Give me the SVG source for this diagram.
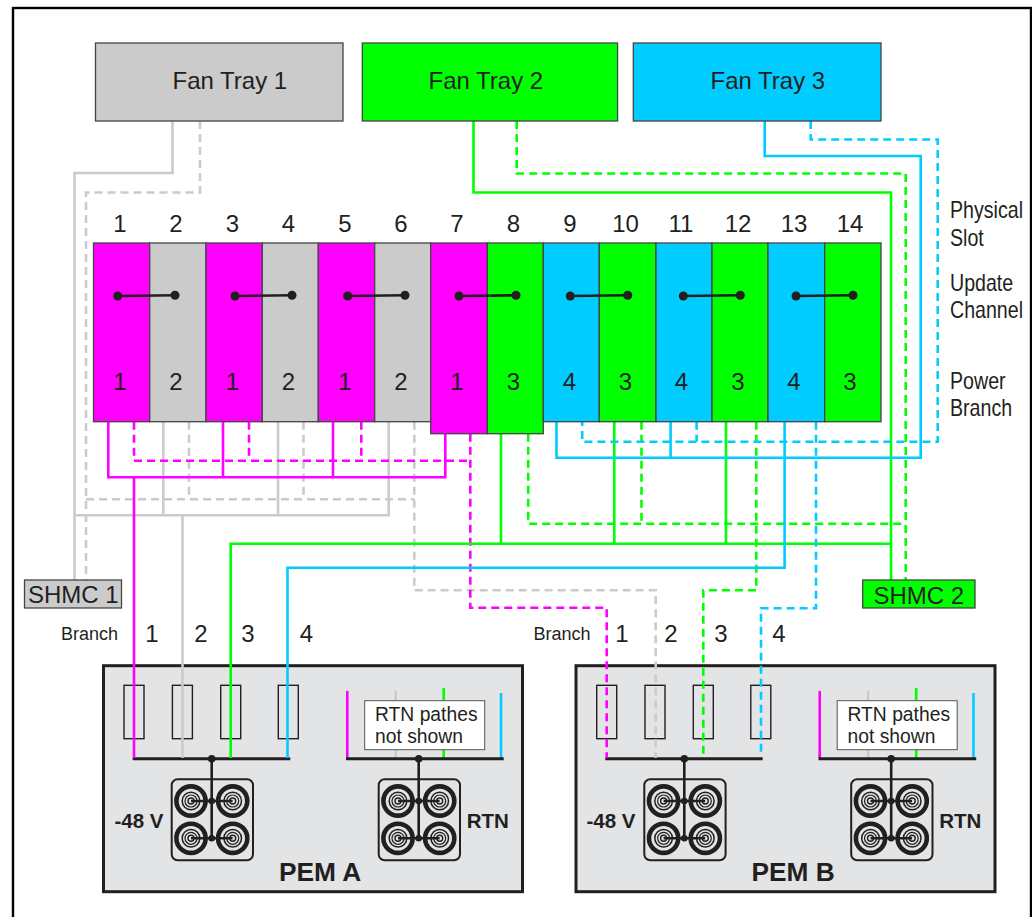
<svg xmlns="http://www.w3.org/2000/svg" xmlns:xlink="http://www.w3.org/1999/xlink" width="1032" height="917" viewBox="0 0 1032 917">
<style>
text{font-family:"Liberation Sans",Arial,sans-serif;fill:#231f20;font-size:24px}
.c{text-anchor:middle}
.b{font-weight:bold;font-size:20.500px}
.pt{font-weight:bold;font-size:26.300px}
.r{font-size:19.300px}
.s{font-size:18px}
.l{font-size:23px}
.box{stroke:#444;stroke-width:1.3}
.g{fill:#cbcbcb}.v{fill:#00ff00}.m{fill:#ff00ff}.u{fill:#00ccff}
.w{fill:none;stroke-width:2.600;stroke-linejoin:miter}
.d{stroke-dasharray:8 5}
.wg{stroke:#cbcbcb}.wv{stroke:#00ff00}.wm{stroke:#ff00ff}.wu{stroke:#00ccff}
.pem{fill:#e3e4e6;stroke:#231f20;stroke-width:3}
.fuse{fill:none;stroke:#231f20;stroke-width:1.4}
.bus{stroke:#231f20;stroke-width:3;fill:none}
.lnk{stroke:#231f20;stroke-width:2.600;fill:none}
.dot{fill:#231f20}
.ring{fill:none;stroke:#231f20}
</style>
<defs>
<g id="term">
<circle class="ring" r="14.600" stroke-width="4.600"/>
<circle class="ring" r="8.800" stroke-width="1.500"/>
<circle class="ring" r="6" stroke-width="1.200"/>
<circle class="ring" r="3" stroke-width="1.400" style="fill:#e3e4e6"/>
</g>
<g id="block">
<rect x="-40" y="20.500" width="81.300" height="81" rx="6" fill="none" stroke="#231f20" stroke-width="2"/>
<use xlink:href="#term" href="#term" x="-20.700" y="42.300"/>
<use xlink:href="#term" href="#term" x="21" y="42.300"/>
<use xlink:href="#term" href="#term" x="-20.700" y="79.600"/>
<use xlink:href="#term" href="#term" x="21" y="79.600"/>
<path class="lnk" d="M0 0V79.500M-20.700 42.300H20.900M-20.700 79.600H20.900"/>
<circle class="dot" r="3.800" cy="0"/>
<circle class="dot" r="3.300" cy="42.300"/>
<circle class="dot" r="3.300" cy="79.600"/>
</g>
</defs>
<rect width="1032" height="917" fill="#fff"/>
<rect id="frame" x="13" y="8" width="1018" height="930" fill="none" stroke="#000" stroke-width="2.400"/>

<g id="pem-a">
<rect class="pem" x="103.500" y="665.700" width="419" height="226"/>
<rect class="fuse" x="124" y="685.300" width="20" height="53.400"/>
<rect class="fuse" x="172.400" y="685.300" width="20" height="53.400"/>
<rect class="fuse" x="220.700" y="685.300" width="20" height="53.400"/>
<rect class="fuse" x="278.300" y="685.300" width="20" height="53.400"/>
<path class="w wm" d="M347.300 691V758"/><path class="w wg" d="M395.700 691V758"/><path class="w wv" d="M443.700 688V758"/><path class="w wu" d="M501 693V758"/>
<rect x="364.700" y="700.700" width="120" height="49" fill="#fff" stroke="#555" stroke-width="1"/>
<text class="r" x="375" y="721">RTN pathes</text>
<text class="r" x="375" y="743">not shown</text>
<path class="bus" d="M132.700 758.700H290.300M346 758.700H503.700"/>
<use xlink:href="#block" href="#block" x="211.700" y="758.700"/>
<use xlink:href="#block" href="#block" x="418.700" y="758.700"/>
<text class="b" x="114.500" y="828">-48 V</text>
<text class="b" x="466.700" y="828">RTN</text>
<text class="pt" x="279" y="881">PEM A</text>
</g>

<g id="pem-b">
<rect class="pem" x="576" y="665.700" width="419" height="226"/>
<rect class="fuse" x="596.700" y="685.300" width="20" height="53.400"/>
<rect class="fuse" x="645" y="685.300" width="20" height="53.400"/>
<rect class="fuse" x="693.300" y="685.300" width="20" height="53.400"/>
<rect class="fuse" x="750.800" y="685.300" width="20" height="53.400"/>
<path class="w wm" d="M819.700 691V758"/><path class="w wg" d="M868.200 691V758"/><path class="w wv" d="M916.200 688V758"/><path class="w wu" d="M973.500 693V758"/>
<rect x="837.200" y="700.700" width="120" height="49" fill="#fff" stroke="#555" stroke-width="1"/>
<text class="r" x="847.500" y="721">RTN pathes</text>
<text class="r" x="847.500" y="743">not shown</text>
<path class="bus" d="M605.300 758.700H762.700M818.500 758.700H976.200"/>
<use xlink:href="#block" href="#block" x="684.300" y="758.700"/>
<use xlink:href="#block" href="#block" x="891.200" y="758.700"/>
<text class="b" x="586.500" y="828">-48 V</text>
<text class="b" x="939.300" y="828">RTN</text>
<text class="pt" x="751.500" y="881">PEM B</text>
</g>

<g id="connectors">
<path class="w wg" d="M172.500 121V173H74.500V581"/>
<path class="w wg" d="M74.500 515.300H388.700V421.700M163.300 421.700V515.300M278 421.700V515.300M182.500 515.300V758"/>
<path class="w wg d" d="M200 121V192.500H86V580"/>
<path class="w wg d" d="M86 499.300H414.300"/>
<path class="w wg d" d="M189 421.700V499.300"/>
<path class="w wg d" d="M303.500 421.700V499.300"/>
<path class="w wg d" d="M414.300 421.700V590.300H655.700V758"/>
<path class="w wm" d="M108.300 421.700V477.300H445.300V433.700M223 421.700V477.300M333 421.700V477.300M134 477.300V758"/>
<path class="w wm d" d="M134 421.700V460.700H470.300"/>
<path class="w wm d" d="M249 421.700V460"/>
<path class="w wm d" d="M361.300 421.700V460"/>
<path class="w wm d" d="M470.300 433.700V607.700H606.700V758"/>
<path class="w wv" d="M473.500 121V192.500H891V580"/>
<path class="w wv" d="M891 543.700H230.700V758M501 433.700V543.700M614.300 421.700V543.700M726 421.700V543.700"/>
<path class="w wv d" d="M516.700 121V173.500H905.700V580"/>
<path class="w wv d" d="M528.200 433.700V523.700H905.700"/>
<path class="w wv d" d="M641.500 421.700V523.700"/>
<path class="w wv d" d="M756.300 421.700V590.300H703.300V758"/>
<path class="w wu" d="M764.700 121V156H920.700V457.700H556.500V421.700M670.600 421.700V457.700"/>
<path class="w wu" d="M784.600 421.700V567.700H287.500V758"/>
<path class="w wu d" d="M810.700 121V139.500H937.700V441.700H582.200V421.700"/>
<path class="w wu d" d="M696.600 421.700V441.700"/>
<path class="w wu d" d="M816 421.700V608.300H761V752"/>
</g>

<g id="fan-tray-1"><rect class="box g" x="95.500" y="43" width="247.500" height="78"/><text x="172.500" y="88.700">Fan Tray 1</text></g>
<g id="fan-tray-2"><rect class="box v" x="362.300" y="43" width="255.300" height="78"/><text x="428.500" y="88.700">Fan Tray 2</text></g>
<g id="fan-tray-3"><rect class="box u" x="633.300" y="43" width="247.700" height="78"/><text x="710.500" y="88.700">Fan Tray 3</text></g>

<g id="slot-1"><rect class="box m" x="93.500" y="243" width="56.200" height="178.700"/><text class="c" x="120" y="232.300">1</text><text class="c" x="120" y="389.500">1</text></g>
<g id="slot-2"><rect class="box g" x="149.700" y="243" width="56.300" height="178.700"/><text class="c" x="176" y="232.300">2</text><text class="c" x="176" y="389.500">2</text></g>
<g id="slot-3"><rect class="box m" x="206" y="243" width="56.300" height="178.700"/><text class="c" x="232.500" y="232.300">3</text><text class="c" x="232.500" y="389.500">1</text></g>
<g id="slot-4"><rect class="box g" x="262.300" y="243" width="56" height="178.700"/><text class="c" x="288.500" y="232.300">4</text><text class="c" x="288.500" y="389.500">2</text></g>
<g id="slot-5"><rect class="box m" x="318.300" y="243" width="56.400" height="178.700"/><text class="c" x="345" y="232.300">5</text><text class="c" x="345" y="389.500">1</text></g>
<g id="slot-6"><rect class="box g" x="374.700" y="243" width="56" height="178.700"/><text class="c" x="401" y="232.300">6</text><text class="c" x="401" y="389.500">2</text></g>
<g id="slot-7"><rect class="box m" x="430.700" y="243" width="56.600" height="190.700"/><text class="c" x="457" y="232.300">7</text><text class="c" x="457" y="389.500">1</text></g>
<g id="slot-8"><rect class="box v" x="487.300" y="243" width="56" height="190.700"/><text class="c" x="513.500" y="232.300">8</text><text class="c" x="513.500" y="389.500">3</text></g>
<g id="slot-9"><rect class="box u" x="543.300" y="243" width="56" height="178.700"/><text class="c" x="570" y="232.300">9</text><text class="c" x="569.500" y="389.500">4</text></g>
<g id="slot-10"><rect class="box v" x="599.300" y="243" width="56.700" height="178.700"/><text class="c" x="625.500" y="232.300">10</text><text class="c" x="625.500" y="389.500">3</text></g>
<g id="slot-11"><rect class="box u" x="656" y="243" width="56" height="178.700"/><text class="c" x="681" y="232.300">11</text><text class="c" x="681.500" y="389.500">4</text></g>
<g id="slot-12"><rect class="box v" x="712" y="243" width="56" height="178.700"/><text class="c" x="738" y="232.300">12</text><text class="c" x="738" y="389.500">3</text></g>
<g id="slot-13"><rect class="box u" x="768" y="243" width="56.700" height="178.700"/><text class="c" x="794" y="232.300">13</text><text class="c" x="794" y="389.500">4</text></g>
<g id="slot-14"><rect class="box v" x="824.700" y="243" width="56.300" height="178.700"/><text class="c" x="850" y="232.300">14</text><text class="c" x="850" y="389.500">3</text></g>

<g id="slot-links">
<path class="lnk" d="M117.700 296L175 295.300M235 296L292 295.300M347.700 296L405 295.300M459 296L516 295.300M570.300 296L627.700 295.300M683.300 296L740.300 295.300M796 296L853 295.300"/>
<g class="dot">
<circle cx="117.700" cy="296" r="4.500"/><circle cx="175" cy="295.300" r="4.500"/>
<circle cx="235" cy="296" r="4.500"/><circle cx="292" cy="295.300" r="4.500"/>
<circle cx="347.700" cy="296" r="4.500"/><circle cx="405" cy="295.300" r="4.500"/>
<circle cx="459" cy="296" r="4.500"/><circle cx="516" cy="295.300" r="4.500"/>
<circle cx="570.300" cy="296" r="4.500"/><circle cx="627.700" cy="295.300" r="4.500"/>
<circle cx="683.300" cy="296" r="4.500"/><circle cx="740.300" cy="295.300" r="4.500"/>
<circle cx="796" cy="296" r="4.500"/><circle cx="853" cy="295.300" r="4.500"/>
</g>
</g>

<g id="shmc-1"><rect class="box g" x="24.500" y="580" width="97" height="28"/><text x="28" y="603.300">SHMC 1</text></g>
<g id="shmc-2"><rect class="box v" x="862.700" y="580" width="112.300" height="28"/><text x="873.500" y="603.800">SHMC 2</text></g>

<g id="legend">
<text class="l" transform="translate(950 217.500) scale(.853 1)">Physical</text>
<text class="l" transform="translate(950 245.500) scale(.853 1)">Slot</text>
<text class="l" transform="translate(950 290.500) scale(.853 1)">Update</text>
<text class="l" transform="translate(950 318) scale(.853 1)">Channel</text>
<text class="l" transform="translate(950 388.500) scale(.853 1)">Power</text>
<text class="l" transform="translate(950 416) scale(.853 1)">Branch</text>
</g>

<g id="branch-labels">
<text class="s" x="61" y="639.500">Branch</text>
<text class="c" x="152" y="642">1</text><text class="c" x="201" y="642">2</text><text class="c" x="248" y="642">3</text><text class="c" x="306.500" y="642">4</text>
<text class="s" x="533.500" y="639.500">Branch</text>
<text class="c" x="622" y="642">1</text><text class="c" x="671" y="642">2</text><text class="c" x="721" y="642">3</text><text class="c" x="779" y="642">4</text>
</g>
</svg>
